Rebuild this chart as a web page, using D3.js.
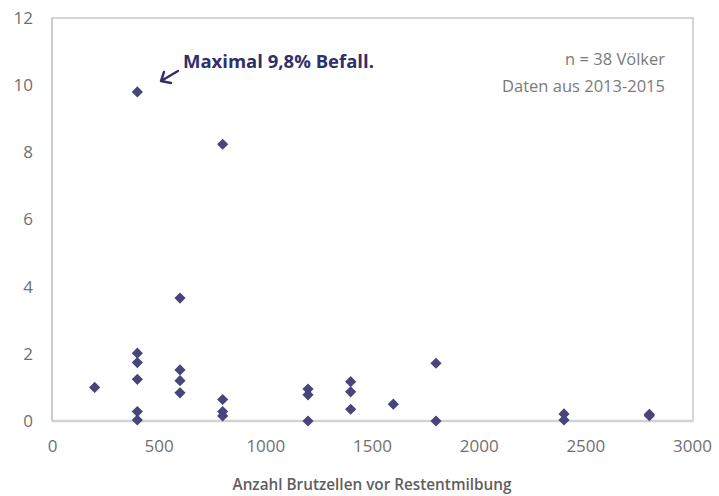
<!DOCTYPE html>
<html>
<head>
<meta charset="utf-8">
<script src="https://cdn.jsdelivr.net/npm/d3@7/dist/d3.min.js"></script>
<style>
  html, body { margin: 0; padding: 0; background: #fff; }
  svg { display: block; }
</style>
</head>
<body>
<svg id="chart" width="719" height="496"></svg>
<script>
// Brood cells before the final mite treatment vs. residual infestation (%)
const brutzellen = [
  200,
  400, 400, 400, 400, 400, 400,
  600, 600, 600, 600,
  800, 800, 800, 800,
  1200, 1200, 1200,
  1400, 1400, 1400,
  1600,
  1800, 1800,
  2400, 2400,
  2800, 2800
];
const befall = [
  1.0,
  9.8, 2.02, 1.74, 1.24, 0.28, 0.03,
  3.66, 1.52, 1.2, 0.84,
  8.24, 0.64, 0.28, 0.15,
  0.95, 0.78, 0.0,
  1.17, 0.87, 0.35,
  0.5,
  1.72, 0.0,
  0.21, 0.03,
  0.2, 0.16
];
const xTicks = [0, 500, 1000, 1500, 2000, 2500, 3000];
const yTicks = [0, 2, 4, 6, 8, 10, 12];
const xTitle = "Anzahl Brutzellen vor Restentmilbung";
const noteLines = ["n = 38 Völker", "Daten aus 2013-2015"];
const maxNote = "Maximal 9,8% Befall.";

const svg = d3.select("#chart");
const font = "'Open Sans', 'Liberation Sans', sans-serif";
const m = { left: 52, right: 692, top: 18, bottom: 421 };

const x = d3.scaleLinear().domain([0, 3000]).range([m.left, m.right]);
const y = d3.scaleLinear().domain([0, 12]).range([m.bottom, m.top]);

// plot frame
svg.append("rect")
  .attr("x", m.left).attr("y", m.top)
  .attr("width", m.right - m.left + 1).attr("height", m.bottom - m.top)
  .attr("fill", "none").attr("stroke", "#c8c8c8").attr("stroke-width", 1.5);

// axes (labels only, lines drawn separately)
const fmt = d3.format("d");
const xAxis = svg.append("g")
  .attr("transform", `translate(0,${m.bottom})`)
  .call(d3.axisBottom(x).tickValues(xTicks).tickFormat(fmt).tickSize(0).tickPadding(19));
const yAxis = svg.append("g")
  .attr("transform", `translate(${m.left},0)`)
  .call(d3.axisLeft(y).tickValues(yTicks).tickFormat(fmt).tickSize(0).tickPadding(19));
[xAxis, yAxis].forEach(g => {
  g.select(".domain").remove();
  g.selectAll("text")
    .attr("font-family", font).attr("font-size", 17).attr("fill", "#707070");
});

// axis lines
svg.append("line")
  .attr("x1", m.left).attr("x2", m.right + 1).attr("y1", m.bottom).attr("y2", m.bottom)
  .attr("stroke", "#d2d2d2").attr("stroke-width", 2.5);
svg.append("line")
  .attr("x1", m.left).attr("x2", m.left).attr("y1", m.top).attr("y2", m.bottom)
  .attr("stroke", "#c8c8c8").attr("stroke-width", 1.5);

// diamond markers
const diamond = d3.symbol().type(d3.symbolDiamond2).size(80);
svg.append("g").selectAll("path")
  .data(brutzellen.map((b, i) => ({ b, v: befall[i] })))
  .join("path")
  .attr("transform", d => `translate(${x(d.b)},${y(d.v)})`)
  .attr("d", diamond)
  .attr("fill", "#48457b");

// axis title
svg.append("text")
  .attr("x", 372).attr("y", 490)
  .attr("text-anchor", "middle")
  .attr("font-family", font).attr("font-size", 15.3).attr("font-weight", 600)
  .attr("fill", "#5e5e5e")
  .text(xTitle);

// sample notes
noteLines.forEach((t, i) => {
  svg.append("text")
    .attr("x", 665).attr("y", 65 + i * 27)
    .attr("text-anchor", "end")
    .attr("font-family", font).attr("font-size", 16.5)
    .attr("fill", "#7a7a7a")
    .text(t);
});

// maximum annotation with arrow
svg.append("text")
  .attr("x", 183).attr("y", 68)
  .attr("font-family", font).attr("font-size", 18.5).attr("font-weight", 700)
  .attr("fill", "#2f2f6b")
  .text(maxNote);
svg.append("path")
  .attr("d", "M178,71 L161,81 M161,81 L164,72 M161,81 L171,83")
  .attr("fill", "none").attr("stroke", "#2f2f6b")
  .attr("stroke-width", 2.4).attr("stroke-linecap", "round").attr("stroke-linejoin", "round");
</script>
</body>
</html>
